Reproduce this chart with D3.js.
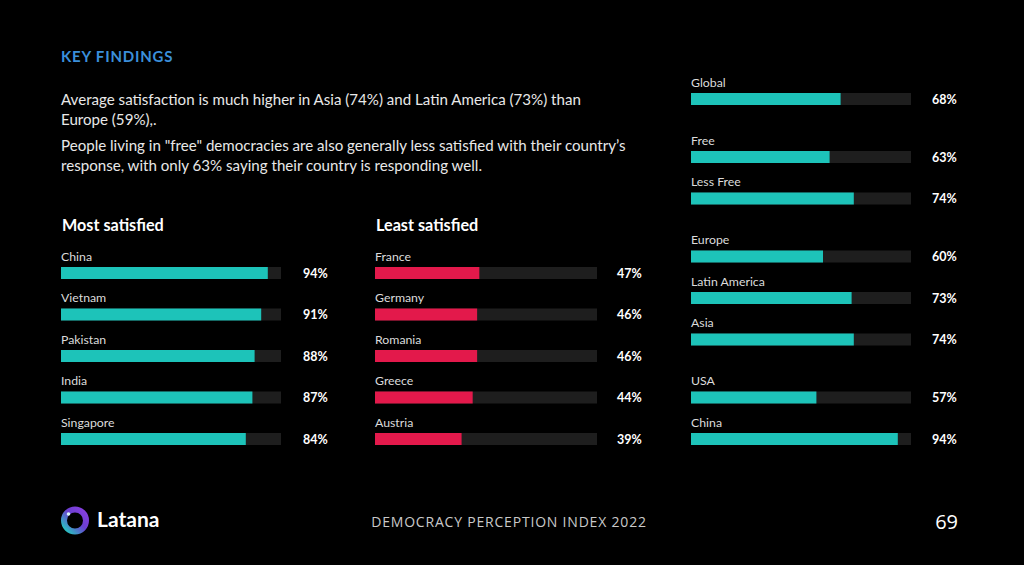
<!DOCTYPE html>
<html>
<head>
<meta charset="utf-8">
<script src="https://cdn.jsdelivr.net/npm/d3@7"></script>
<style>
  html, body { margin: 0; padding: 0; background: #000; }
  svg { display: block; }
</style>
</head>
<body>
<svg id="chart" width="1024" height="565"></svg>
<script>
// most / least satisfied countries
const mostCountries = ["China", "Vietnam", "Pakistan", "India", "Singapore"];
const mostValues = [94, 91, 88, 87, 84];
const leastCountries = ["France", "Germany", "Romania", "Greece", "Austria"];
const leastValues = [47, 46, 46, 44, 39];

// right hand side groups
const groupLabels = ["Global", "Free", "Less Free", "Europe", "Latin America", "Asia", "USA", "China"];
const groupValues = [68, 63, 74, 60, 73, 74, 57, 94];
const groupIndex = [0, 1, 1, 2, 2, 2, 3, 3];

const paragraphLines = [
    "Average satisfaction is much higher in Asia (74%) and Latin America (73%) than",
    "Europe (59%),.",
    "People living in \"free\" democracies are also generally less satisfied with their country\u2019s",
    "response, with only 63% saying their country is responding well."
];

const TEAL = "#1dc3b9";
const RED = "#e3194b";
const TRACK = "#1e1e1e";
const FONT = "Lato, 'Open Sans', sans-serif";

let svg = d3.select("#chart");
svg.append("rect").attr("width", 1024).attr("height", 565).attr("fill", "#000");

// header
svg.append("text")
    .attr("x", 61).attr("y", 62)
    .attr("fill", "#3b8fdb")
    .style("font-family", FONT)
    .style("font-weight", 700)
    .style("font-size", "15px")
    .style("letter-spacing", "0.8px")
    .text("KEY FINDINGS");

let lineY = [105, 125, 151, 171];
svg.append("g")
    .selectAll("text")
    .data(paragraphLines)
    .enter().append("text")
    .attr("x", 61)
    .attr("y", (d, i) => lineY[i])
    .attr("fill", "#e8e8e8")
    .style("font-family", FONT)
    .style("font-size", "15.1px")
    .text(d => d);

// row positions shared by all panels (41.5px per row + gap between groups)
let rowY = d3.scaleLinear().domain([0, 1]).range([93, 134.5]);
let groupGap = 16.5;
const BAR_H = 12;

function drawPanel(x0, width, labels, values, tops, color, valueX) {
    let x = d3.scaleLinear().domain([0, 100]).range([x0, x0 + width]);
    let data = labels.map((d, i) => ({ label: d, value: values[i], top: tops[i] }));

    let row = svg.append("g")
        .selectAll("g")
        .data(data)
        .enter().append("g");

    row.append("text")
        .attr("x", x0)
        .attr("y", d => d.top - 6.5)
        .attr("fill", "#dcdcdc")
        .style("font-family", FONT)
        .style("font-size", "12.3px")
        .text(d => d.label);

    row.append("rect")
        .attr("x", x(0))
        .attr("y", d => d.top)
        .attr("width", x(100) - x(0))
        .attr("height", BAR_H)
        .attr("fill", TRACK);

    row.append("rect")
        .attr("x", x(0))
        .attr("y", d => d.top)
        .attr("width", d => x(d.value) - x(0))
        .attr("height", BAR_H)
        .attr("fill", color);

    row.append("text")
        .attr("x", valueX)
        .attr("y", d => d.top + BAR_H / 2 + 4.5)
        .attr("fill", "#fff")
        .style("font-family", FONT)
        .style("font-weight", 700)
        .style("font-size", "12.5px")
        .text(d => d.value + "%");
}

// left grid lines up with the right column: last row at the right "China" row
let leftTops = mostCountries.map((d, i) => rowY(i + 3) + 3 * groupGap);
let rightTops = groupLabels.map((d, i) => rowY(i) + groupIndex[i] * groupGap);

// panel headings
svg.append("text")
    .attr("x", 62).attr("y", 231)
    .attr("fill", "#fff")
    .style("font-family", FONT)
    .style("font-weight", 700)
    .style("font-size", "16.2px")
    .text("Most satisfied");
svg.append("text")
    .attr("x", 376).attr("y", 231)
    .attr("fill", "#fff")
    .style("font-family", FONT)
    .style("font-weight", 700)
    .style("font-size", "16.2px")
    .text("Least satisfied");

drawPanel(61, 220, mostCountries, mostValues, leftTops, TEAL, 303);
drawPanel(375, 222, leastCountries, leastValues, leftTops, RED, 617);
drawPanel(691, 220, groupLabels, groupValues, rightTops, TEAL, 932);

// footer
let defs = svg.append("defs");
let grad = defs.append("linearGradient")
    .attr("id", "logoGrad")
    .attr("x1", "0%").attr("y1", "100%")
    .attr("x2", "100%").attr("y2", "0%");
grad.append("stop").attr("offset", "0%").attr("stop-color", "#23d0c0");
grad.append("stop").attr("offset", "55%").attr("stop-color", "#6a3fd0");
grad.append("stop").attr("offset", "100%").attr("stop-color", "#8a3fe0");

svg.append("circle")
    .attr("cx", 75).attr("cy", 520.5)
    .attr("r", 11)
    .attr("fill", "none")
    .attr("stroke", "url(#logoGrad)")
    .attr("stroke-width", 6);
svg.append("circle")
    .attr("cx", 68.5).attr("cy", 514)
    .attr("r", 1.8)
    .attr("fill", "#d8f4f6");

svg.append("text")
    .attr("x", 97).attr("y", 527)
    .attr("fill", "#fff")
    .style("font-family", FONT)
    .style("font-weight", 700)
    .style("font-size", "21px")
    .text("Latana");

svg.append("text")
    .attr("x", 509).attr("y", 527)
    .attr("text-anchor", "middle")
    .attr("fill", "#c9c9c9")
    .style("font-family", "'Open Sans', sans-serif")
    .style("font-size", "14px")
    .style("letter-spacing", "0.8px")
    .text("DEMOCRACY PERCEPTION INDEX 2022");

svg.append("text")
    .attr("x", 958).attr("y", 529)
    .attr("text-anchor", "end")
    .attr("fill", "#fff")
    .style("font-family", "'Open Sans', sans-serif")
    .style("font-size", "20px")
    .text("69");
</script>
</body>
</html>
